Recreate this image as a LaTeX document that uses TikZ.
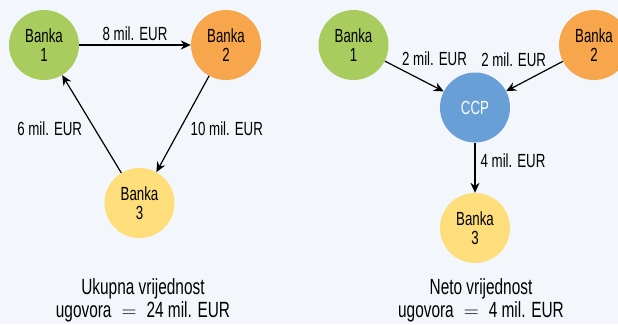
\documentclass[tikz,border=0pt]{standalone}
\usepackage{fontspec}
\setmainfont{Liberation Sans}[FakeStretch=0.7]
\usepackage{tikz}
\usetikzlibrary{arrows.meta}
\usetikzlibrary{positioning}
\definecolor{bgblue}{HTML}{F3F7FC}
\definecolor{bankgreen}{HTML}{A9CC5E}
\definecolor{bankorange}{HTML}{F7A64B}
\definecolor{bankyellow}{HTML}{FEDD7B}
\definecolor{ccpblue}{HTML}{679FD6}
\begin{document}
\begin{tikzpicture}[
    x=1pt, y=-1pt,
    bank/.style={
        circle, minimum size=70pt, inner sep=0pt,
        font=\fontsize{19}{19}\selectfont,
        align=center
    },
    arr/.style={-{Stealth[length=10pt,width=9pt]}, line width=1.2pt},
    lbl/.style={font=\fontsize{19}{19}\selectfont, inner sep=2pt},
    note/.style={font=\fontsize{22}{23}\selectfont, align=center}
]
\fill[bgblue] (0,0) rectangle (618,324);
\useasboundingbox (0,0) rectangle (618,324);
% gross exposures
\node[bank, fill=bankgreen] (g1) at (44,45) {Banka\\1};
\node[bank, fill=bankorange] (g2) at (226,45) {Banka\\2};
\node[bank, fill=bankyellow] (g3) at (139.5,203) {Banka\\3};
\draw[arr] (g1) -- node[lbl, above=2pt] {8 mil. EUR} (g2);
\draw[arr] (g2) -- node[lbl, pos=.55, right=8pt] {10 mil. EUR} (g3);
\draw[arr] (g3) -- node[lbl, pos=.45, left=10pt] {6 mil. EUR} (g1);
\node[note] (gsum) at (143,300) {Ukupna vrijednost\\ugovora $\;=\;$ 24 mil. EUR};
% net exposures through the CCP
\node[bank, fill=bankgreen] (n1) at (353.5,45) {Banka\\1};
\node[bank, fill=bankorange] (n2) at (594,45) {Banka\\2};
\node[bank, fill=ccpblue, text=white] (ccp) at (475,107.5) {CCP};
\node[bank, fill=bankyellow] (n3) at (475,228) {Banka\\3};
\draw[arr] (n1) -- node[lbl, pos=.25, above right] {2 mil. EUR} (ccp);
\draw[arr] (n2) -- node[lbl, pos=.25, above left] {2 mil. EUR} (ccp);
\draw[arr] (ccp) -- node[lbl, pos=.35, right=3pt] {4 mil. EUR} (n3);
\node[note] (nsum) at (481,300) {Neto vrijednost\\ugovora $\;=\;$ 4 mil. EUR};
\end{tikzpicture}
\end{document}
